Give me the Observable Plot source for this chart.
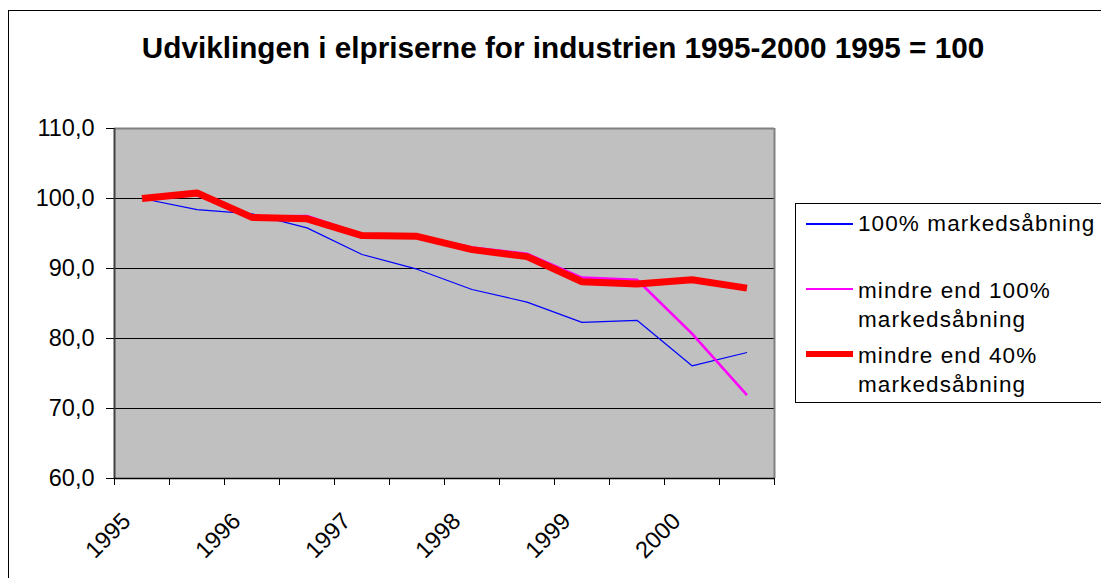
<!DOCTYPE html>
<html>
<head>
<meta charset="utf-8">
<script src="https://cdn.jsdelivr.net/npm/d3@7"></script>
<script src="https://cdn.jsdelivr.net/npm/@observablehq/plot@0.6"></script>
<style>
  html, body { margin: 0; padding: 0; background: #fff; }
  body { width: 1101px; height: 578px; overflow: hidden; position: relative; font-family: "Liberation Sans", Arial, sans-serif; }
  #frame { position: absolute; left: 8px; top: 10px; width: 1200px; height: 700px; border-left: 1px solid #000; border-top: 1px solid #000; }
  #title { position: absolute; left: 0; top: 31px; width: 1126px; text-align: center; font-size: 29.7px; font-weight: bold; color: #000; white-space: nowrap; }
  #chart { position: absolute; left: 0; top: 0; }
  #legend { position: absolute; left: 795px; top: 203px; width: 400px; height: 198px; border: 1px solid #000; background: #fff; }
  .swatch { position: absolute; left: 0; width: 47px; }
  .lbl { position: absolute; left: 53px; font-size: 22.5px; letter-spacing: 1.1px; line-height: 29px; white-space: nowrap; color: #000; }
</style>
</head>
<body>
<div id="frame"></div>
<div id="chart"></div>
<div id="title"></div>
<div id="legend"></div>
<script>
const titleText = "Udviklingen i elpriserne for industrien 1995-2000 1995 = 100";
const periods = ["1995 I","1995 II","1996 I","1996 II","1997 I","1997 II","1998 I","1998 II","1999 I","1999 II","2000 I","2000 II"];
const yearLabels = ["1995","1996","1997","1998","1999","2000"];
const seriesNames = ["100% markedsåbning", "mindre end 100% markedsåbning", "mindre end 40% markedsåbning"];
const legendLines = [["100% markedsåbning"], ["mindre end 100%", "markedsåbning"], ["mindre end 40%", "markedsåbning"]];
const full100 = [100.0, 98.4, 97.8, 95.8, 92.0, 89.9, 87.0, 85.2, 82.3, 82.6, 76.1, 78.0];
const less100 = [100.0, 100.5, 97.4, 97.5, 94.9, 94.7, 93.0, 92.1, 88.7, 88.4, 80.7, 71.9];
const less40  = [100.0, 100.8, 97.3, 97.1, 94.7, 94.6, 92.7, 91.7, 88.1, 87.8, 88.4, 87.2];
const yTicks = [60, 70, 80, 90, 100, 110];
const gridValues = [70, 80, 90, 100];
const colors = ["#0000ff", "#ff00ff", "#ff0000"];
const widths = [1.2, 2.6, 7];

document.getElementById("title").textContent = titleText;

const allSeries = [full100, less100, less40];
const rows = allSeries.flatMap((vals, s) => vals.map((v, i) => ({series: seriesNames[s], period: periods[i], idx: i + 0.5, value: v})));

const lineMarks = seriesNames.map((name, s) =>
  Plot.line(rows.filter(r => r.series === name), {
    x: "idx", y: "value", stroke: colors[s], strokeWidth: widths[s], strokeLinejoin: "miter", strokeLinecap: "butt"
  })
);

const chart = Plot.plot({
  width: 1101,
  height: 578,
  marginLeft: 114,
  marginRight: 327,
  marginTop: 128,
  marginBottom: 100,
  style: { fontFamily: "'Liberation Sans', Arial, sans-serif", fontSize: "23.5px", color: "#000", background: "transparent", overflow: "visible" },
  x: { domain: [0, periods.length], axis: null },
  y: { domain: [60, 110], axis: null },
  marks: [
    Plot.frame({ fill: "#c0c0c0", stroke: null }),
    Plot.ruleY(gridValues, { stroke: "#000", strokeWidth: 1 }),
    ...lineMarks,
    Plot.ruleY([110], { stroke: "#808080", strokeWidth: 2 }),
    Plot.ruleX([periods.length], { stroke: "#808080", strokeWidth: 2 }),
    Plot.ruleX([0], { stroke: "#404040", strokeWidth: 2 }),
    Plot.ruleY([60], { stroke: "#000", strokeWidth: 1.5 }),
    Plot.axisY({ ticks: yTicks, tickSize: 8, tickPadding: 12, tickFormat: d => d.toFixed(1).replace(".", ","), fontSize: 23.5, stroke: "#000", label: null }),
    Plot.axisX({ ticks: d3.range(periods.length + 1), tickSize: 7, tickFormat: () => "", stroke: "#000", label: null }),
    Plot.text(yearLabels, {
      x: (d, i) => periods.indexOf(d + " I") + 0.5,
      y: () => 60,
      text: d => d,
      rotate: -45,
      textAnchor: "end",
      lineAnchor: "bottom",
      dx: -10,
      dy: 44,
      fontSize: 23.5,
      fill: "#000"
    })
  ]
});
document.getElementById("chart").appendChild(chart);

// legend
const legend = document.getElementById("legend");
const lineY = [20, 85, 150];
const textTop = [5, 72, 137];
seriesNames.forEach((name, s) => {
  const sw = document.createElement("div");
  sw.className = "swatch";
  sw.style.left = "10px";
  sw.style.top = (lineY[s] - widths[s] / 2) + "px";
  sw.style.height = Math.max(1, widths[s] - (s === 2 ? 1 : 0)) + "px";
  sw.style.background = colors[s];
  legend.appendChild(sw);
  const lbl = document.createElement("div");
  lbl.className = "lbl";
  lbl.style.left = "62px";
  lbl.style.top = textTop[s] + "px";
  lbl.innerHTML = legendLines[s].join("<br>");
  legend.appendChild(lbl);
});
</script>
</body>
</html>
